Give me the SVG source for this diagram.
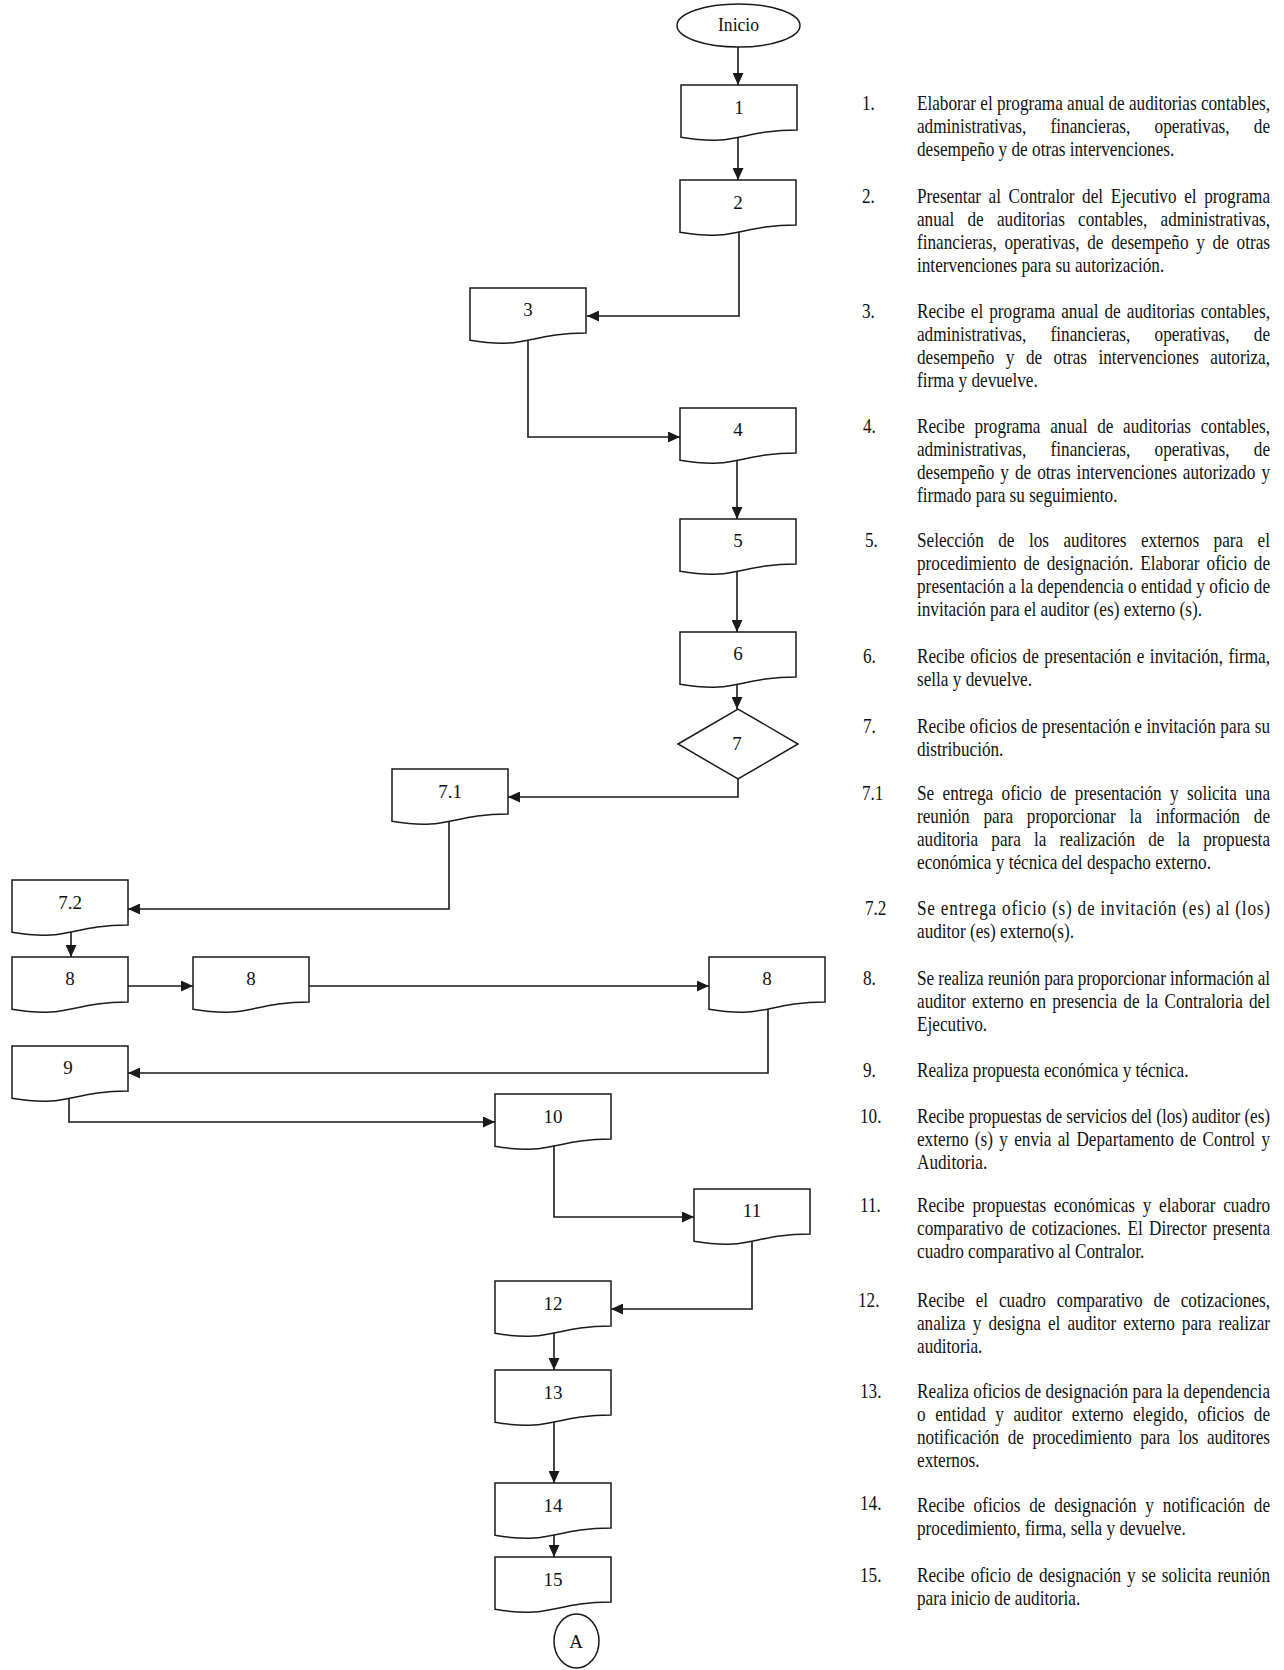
<svg xmlns="http://www.w3.org/2000/svg" xmlns:xlink="http://www.w3.org/1999/xlink" width="1284" height="1670" viewBox="0 0 1284 1670">
<style>
.bg{fill:#ffffff}
.box{fill:#ffffff;stroke:#1a1a1a;stroke-width:1.5}
.conn{fill:none;stroke:#1a1a1a;stroke-width:1.6}
.lbl{font-family:"Liberation Serif","Times New Roman",serif;font-size:19px;fill:#111;text-anchor:middle}
.tx{font-family:"Liberation Serif","Times New Roman",serif;font-size:20px;fill:#111}
.num{font-family:"Liberation Serif","Times New Roman",serif;font-size:20px;fill:#111}
</style>
<defs>
<path id="doc" d="M0 0H116V45C58 45 58 62 0 52.3Z"/>
<marker id="ah" markerUnits="userSpaceOnUse" markerWidth="12" markerHeight="11" refX="12" refY="5.5" orient="auto">
<path d="M0 0L12 5.5L0 11Z" fill="#1a1a1a"/>
</marker>
</defs>
<rect class="bg" x="0" y="0" width="1284" height="1670"/>

<g id="connectors">
<path class="conn" marker-end="url(#ah)" d="M738 47V85"/>
<path class="conn" marker-end="url(#ah)" d="M738 137V180"/>
<path class="conn" marker-end="url(#ah)" d="M739 232V316H587"/>
<path class="conn" marker-end="url(#ah)" d="M528 340V437H680"/>
<path class="conn" marker-end="url(#ah)" d="M737 460V519"/>
<path class="conn" marker-end="url(#ah)" d="M737 571V632"/>
<path class="conn" marker-end="url(#ah)" d="M737 684V709"/>
<path class="conn" marker-end="url(#ah)" d="M738 779V797H508"/>
<path class="conn" marker-end="url(#ah)" d="M449 820V909H128"/>
<path class="conn" marker-end="url(#ah)" d="M71 931V957"/>
<path class="conn" marker-end="url(#ah)" d="M128 986H193"/>
<path class="conn" marker-end="url(#ah)" d="M309 986H709"/>
<path class="conn" marker-end="url(#ah)" d="M768 1008V1073H128"/>
<path class="conn" marker-end="url(#ah)" d="M69 1097V1122H495"/>
<path class="conn" marker-end="url(#ah)" d="M554 1146V1217H694"/>
<path class="conn" marker-end="url(#ah)" d="M752 1240V1309H611"/>
<path class="conn" marker-end="url(#ah)" d="M554 1333V1370"/>
<path class="conn" marker-end="url(#ah)" d="M554 1422V1483"/>
<path class="conn" marker-end="url(#ah)" d="M554 1535V1557"/>
</g>

<g id="inicio">
<ellipse class="box" cx="738.5" cy="25.5" rx="61.5" ry="21.5"/>
<text class="lbl" x="738.5" y="31" font-size="20" textLength="41" lengthAdjust="spacingAndGlyphs">Inicio</text>
</g>
<g id="n1" transform="translate(681 85)"><use class="box" href="#doc"/><text class="lbl" x="58" y="29">1</text></g>
<g id="n2" transform="translate(680 180)"><use class="box" href="#doc"/><text class="lbl" x="58" y="29">2</text></g>
<g id="n3" transform="translate(470 288)"><use class="box" href="#doc"/><text class="lbl" x="58" y="28">3</text></g>
<g id="n4" transform="translate(680 408)"><use class="box" href="#doc"/><text class="lbl" x="58" y="28">4</text></g>
<g id="n5" transform="translate(680 519)"><use class="box" href="#doc"/><text class="lbl" x="58" y="28">5</text></g>
<g id="n6" transform="translate(680 632)"><use class="box" href="#doc"/><text class="lbl" x="58" y="28">6</text></g>
<g id="n7">
<path class="box" d="M678 744L738 709L798 744L738 779Z"/>
<text class="lbl" x="737" y="750">7</text>
</g>
<g id="n7_1" transform="translate(392 769)"><use class="box" href="#doc"/><text class="lbl" x="58" y="29">7.1</text></g>
<g id="n7_2" transform="translate(12 880)"><use class="box" href="#doc"/><text class="lbl" x="58" y="29">7.2</text></g>
<g id="n8a" transform="translate(12 957)"><use class="box" href="#doc"/><text class="lbl" x="58" y="28">8</text></g>
<g id="n8b" transform="translate(193 957)"><use class="box" href="#doc"/><text class="lbl" x="58" y="28">8</text></g>
<g id="n8c" transform="translate(709 957)"><use class="box" href="#doc"/><text class="lbl" x="58" y="28">8</text></g>
<g id="n9" transform="translate(12 1046)"><use class="box" href="#doc"/><text class="lbl" x="56" y="28">9</text></g>
<g id="n10" transform="translate(495 1094)"><use class="box" href="#doc"/><text class="lbl" x="58" y="29">10</text></g>
<g id="n11" transform="translate(694 1189)"><use class="box" href="#doc"/><text class="lbl" x="58" y="28">11</text></g>
<g id="n12" transform="translate(495 1281)"><use class="box" href="#doc"/><text class="lbl" x="58" y="29">12</text></g>
<g id="n13" transform="translate(495 1370)"><use class="box" href="#doc"/><text class="lbl" x="58" y="29">13</text></g>
<g id="n14" transform="translate(495 1483)"><use class="box" href="#doc"/><text class="lbl" x="58" y="29">14</text></g>
<g id="n15" transform="translate(495 1557)"><use class="box" href="#doc"/><text class="lbl" x="58" y="29">15</text></g>
<g id="nA">
<ellipse class="box" cx="576.5" cy="1641" rx="22.5" ry="27"/>
<text class="lbl" x="576" y="1648">A</text>
</g>

<g id="numbers" transform="scale(0.86 1)">
<text class="num" x="1002.3" y="110">1.</text>
<text class="num" x="1002.3" y="203">2.</text>
<text class="num" x="1002.3" y="318">3.</text>
<text class="num" x="1003.5" y="433">4.</text>
<text class="num" x="1005.8" y="547">5.</text>
<text class="num" x="1003.5" y="663">6.</text>
<text class="num" x="1003.5" y="733">7.</text>
<text class="num" x="1002.3" y="800">7.1</text>
<text class="num" x="1005.8" y="915">7.2</text>
<text class="num" x="1003.5" y="985">8.</text>
<text class="num" x="1003.5" y="1077">9.</text>
<text class="num" x="1000" y="1123">10.</text>
<text class="num" x="1000" y="1212">11.</text>
<text class="num" x="997.7" y="1307">12.</text>
<text class="num" x="1000" y="1398">13.</text>
<text class="num" x="1000" y="1510">14.</text>
<text class="num" x="1000" y="1582">15.</text>
</g>

<g id="descriptions" transform="translate(917 0) scale(0.86 1)">
<text class="tx" x="0" y="110" textLength="410.5" lengthAdjust="spacing">Elaborar el programa anual de auditorias contables,</text>
<text class="tx" x="0" y="133" textLength="410.5" lengthAdjust="spacing" style="word-spacing:23.2px">administrativas, financieras, operativas, de</text>
<text class="tx" x="0" y="156">desempeño y de otras intervenciones.</text>

<text class="tx" x="0" y="203" textLength="410.5" lengthAdjust="spacing" style="word-spacing:3.8px">Presentar al Contralor del Ejecutivo el programa</text>
<text class="tx" x="0" y="226" textLength="410.5" lengthAdjust="spacing" style="word-spacing:10.4px">anual de auditorias contables, administrativas,</text>
<text class="tx" x="0" y="249" textLength="410.5" lengthAdjust="spacing" style="word-spacing:4px">financieras, operativas, de desempeño y de otras</text>
<text class="tx" x="0" y="272">intervenciones para su autorización.</text>

<text class="tx" x="0" y="318" textLength="410.5" lengthAdjust="spacing" style="word-spacing:2px">Recibe el programa anual de auditorias contables,</text>
<text class="tx" x="0" y="341" textLength="410.5" lengthAdjust="spacing" style="word-spacing:23.2px">administrativas, financieras, operativas, de</text>
<text class="tx" x="0" y="364" textLength="410.5" lengthAdjust="spacing" style="word-spacing:8.3px">desempeño y de otras intervenciones autoriza,</text>
<text class="tx" x="0" y="387">firma y devuelve.</text>

<text class="tx" x="0" y="433" textLength="410.5" lengthAdjust="spacing" style="word-spacing:6.3px">Recibe programa anual de auditorias contables,</text>
<text class="tx" x="0" y="456" textLength="410.5" lengthAdjust="spacing" style="word-spacing:23.2px">administrativas, financieras, operativas, de</text>
<text class="tx" x="0" y="479" textLength="410.5" lengthAdjust="spacing" style="word-spacing:2px">desempeño y de otras intervenciones autorizado y</text>
<text class="tx" x="0" y="502">firmado para su seguimiento.</text>

<text class="tx" x="0" y="547" textLength="410.5" lengthAdjust="spacing" style="word-spacing:11.8px">Selección de los auditores externos para el</text>
<text class="tx" x="0" y="570" textLength="410.5" lengthAdjust="spacing" style="word-spacing:3.2px">procedimiento de designación. Elaborar oficio de</text>
<text class="tx" x="0" y="593" textLength="410.5" lengthAdjust="spacing">presentación a la dependencia o entidad y oficio de</text>
<text class="tx" x="0" y="616">invitación para el auditor (es) externo (s).</text>

<text class="tx" x="0" y="663" textLength="410.5" lengthAdjust="spacing" style="word-spacing:1.4px">Recibe oficios de presentación e invitación, firma,</text>
<text class="tx" x="0" y="686">sella y devuelve.</text>

<text class="tx" x="0" y="733" textLength="410.5" lengthAdjust="spacing">Recibe oficios de presentación e invitación para su</text>
<text class="tx" x="0" y="756">distribución.</text>

<text class="tx" x="0" y="800" textLength="410.5" lengthAdjust="spacing" style="word-spacing:4.8px">Se entrega oficio de presentación y solicita una</text>
<text class="tx" x="0" y="823" textLength="410.5" lengthAdjust="spacing" style="word-spacing:11.1px">reunión para proporcionar la información de</text>
<text class="tx" x="0" y="846" textLength="410.5" lengthAdjust="spacing" style="word-spacing:10.3px">auditoria para la realización de la propuesta</text>
<text class="tx" x="0" y="869">económica y técnica del despacho externo.</text>

<text class="tx" x="0" y="915" textLength="410.5" lengthAdjust="spacing">Se entrega oficio (s) de invitación (es) al (los)</text>
<text class="tx" x="0" y="938">auditor (es) externo(s).</text>

<text class="tx" x="0" y="985" textLength="410.5" lengthAdjust="spacing">Se realiza reunión para proporcionar información al</text>
<text class="tx" x="0" y="1008" textLength="410.5" lengthAdjust="spacing" style="word-spacing:2.2px">auditor externo en presencia de la Contraloria del</text>
<text class="tx" x="0" y="1031">Ejecutivo.</text>

<text class="tx" x="0" y="1077">Realiza propuesta económica y técnica.</text>

<text class="tx" x="0" y="1123" textLength="410.5" lengthAdjust="spacing">Recibe propuestas de servicios del (los) auditor (es)</text>
<text class="tx" x="0" y="1146" textLength="410.5" lengthAdjust="spacing" style="word-spacing:2.3px">externo (s) y envia al Departamento de Control y</text>
<text class="tx" x="0" y="1169">Auditoria.</text>

<text class="tx" x="0" y="1212" textLength="410.5" lengthAdjust="spacing" style="word-spacing:4px">Recibe propuestas económicas y elaborar cuadro</text>
<text class="tx" x="0" y="1235" textLength="410.5" lengthAdjust="spacing" style="word-spacing:2.3px">comparativo de cotizaciones. El Director presenta</text>
<text class="tx" x="0" y="1258">cuadro comparativo al Contralor.</text>

<text class="tx" x="0" y="1307" textLength="410.5" lengthAdjust="spacing" style="word-spacing:7.7px">Recibe el cuadro comparativo de cotizaciones,</text>
<text class="tx" x="0" y="1330" textLength="410.5" lengthAdjust="spacing" style="word-spacing:3.2px">analiza y designa el auditor externo para realizar</text>
<text class="tx" x="0" y="1353">auditoria.</text>

<text class="tx" x="0" y="1398" textLength="410.5" lengthAdjust="spacing">Realiza oficios de designación para la dependencia</text>
<text class="tx" x="0" y="1421" textLength="410.5" lengthAdjust="spacing" style="word-spacing:6.1px">o entidad y auditor externo elegido, oficios de</text>
<text class="tx" x="0" y="1444" textLength="410.5" lengthAdjust="spacing" style="word-spacing:4.9px">notificación de procedimiento para los auditores</text>
<text class="tx" x="0" y="1467">externos.</text>

<text class="tx" x="0" y="1512" textLength="410.5" lengthAdjust="spacing" style="word-spacing:5.3px">Recibe oficios de designación y notificación de</text>
<text class="tx" x="0" y="1535">procedimiento, firma, sella y devuelve.</text>

<text class="tx" x="0" y="1582" textLength="410.5" lengthAdjust="spacing" style="word-spacing:1.9px">Recibe oficio de designación y se solicita reunión</text>
<text class="tx" x="0" y="1605">para inicio de auditoria.</text>
</g>
</svg>
